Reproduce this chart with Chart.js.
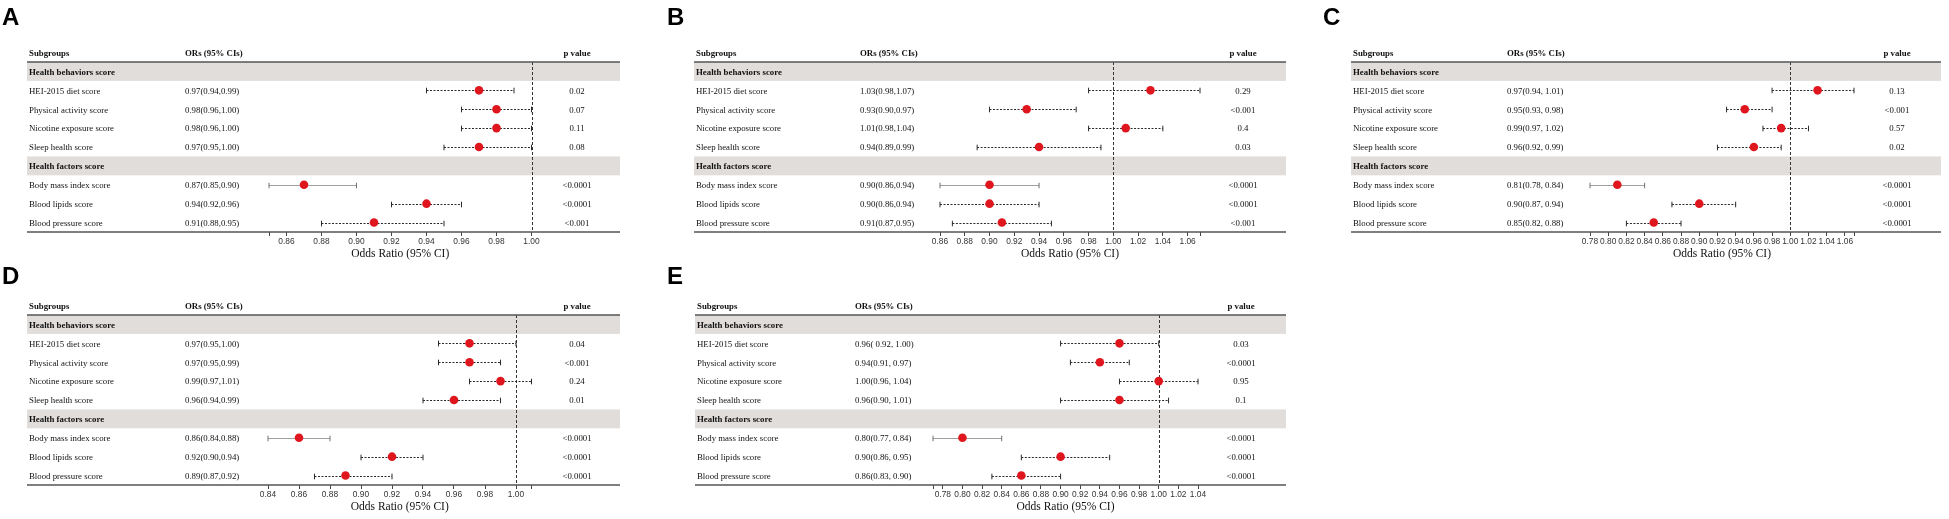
<!DOCTYPE html>
<html>
<head>
<meta charset="utf-8">
<script src="https://cdn.jsdelivr.net/npm/chart.js@4.4.1/dist/chart.umd.min.js"></script>
<style>
  body { margin: 0; background: #fff; width: 1949px; height: 519px; overflow: hidden; position: relative; }
  canvas { position: absolute; }
</style>
</head>
<body>
<canvas id="cA" width="650" height="262" style="left:0px;top:0px"></canvas>
<canvas id="cB" width="650" height="262" style="left:650px;top:0px"></canvas>
<canvas id="cC" width="649" height="262" style="left:1300px;top:0px"></canvas>
<canvas id="cD" width="650" height="266" style="left:0px;top:253px"></canvas>
<canvas id="cE" width="650" height="266" style="left:650px;top:253px"></canvas>
<script>
// rows of the table (same in every panel)
const subgroups = ['HEI-2015 diet score', 'Physical activity score', 'Nicotine exposure score', 'Sleep health score',
                   'Body mass index score', 'Blood lipids score', 'Blood pressure score'];
const groupNames = ['Health behaviors score', 'Health factors score'];
const rowIdx = [2, 3, 4, 5, 7, 8, 9];   // table row of each subgroup
const groupIdx = [1, 6];

// A
const orA = [0.97, 0.98, 0.98, 0.97, 0.87, 0.94, 0.91];
const loA = [0.94, 0.96, 0.96, 0.95, 0.85, 0.92, 0.88];
const hiA = [0.99, 1.00, 1.00, 1.00, 0.90, 0.96, 0.95];
const txtA = ['0.97(0.94,0.99)', '0.98(0.96,1.00)', '0.98(0.96,1.00)', '0.97(0.95,1.00)', '0.87(0.85,0.90)', '0.94(0.92,0.96)', '0.91(0.88,0.95)'];
const pA = ['0.02', '0.07', '0.11', '0.08', '<0.0001', '<0.0001', '<0.001'];
const ticksA = [0.86, 0.88, 0.90, 0.92, 0.94, 0.96, 0.98, 1.00];
const limA = [0.85, 1.00];

// B
const orB = [1.03, 0.93, 1.01, 0.94, 0.90, 0.90, 0.91];
const loB = [0.98, 0.90, 0.98, 0.89, 0.86, 0.86, 0.87];
const hiB = [1.07, 0.97, 1.04, 0.99, 0.94, 0.94, 0.95];
const txtB = ['1.03(0.98,1.07)', '0.93(0.90,0.97)', '1.01(0.98,1.04)', '0.94(0.89,0.99)', '0.90(0.86,0.94)', '0.90(0.86,0.94)', '0.91(0.87,0.95)'];
const pB = ['0.29', '<0.001', '0.4', '0.03', '<0.0001', '<0.0001', '<0.001'];
const ticksB = [0.86, 0.88, 0.90, 0.92, 0.94, 0.96, 0.98, 1.00, 1.02, 1.04, 1.06];
const limB = [0.86, 1.07];

// C
const orC = [1.03, 0.95, 0.99, 0.96, 0.81, 0.90, 0.85];
const loC = [0.98, 0.93, 0.97, 0.92, 0.78, 0.87, 0.82];
const hiC = [1.07, 0.98, 1.02, 0.99, 0.84, 0.94, 0.88];
const txtC = ['0.97(0.94, 1.01)', '0.95(0.93, 0.98)', '0.99(0.97, 1.02)', '0.96(0.92, 0.99)', '0.81(0.78, 0.84)', '0.90(0.87, 0.94)', '0.85(0.82, 0.88)'];
const pC = ['0.13', '<0.001', '0.57', '0.02', '<0.0001', '<0.0001', '<0.0001'];
const ticksC = [0.78, 0.80, 0.82, 0.84, 0.86, 0.88, 0.90, 0.92, 0.94, 0.96, 0.98, 1.00, 1.02, 1.04, 1.06];
const limC = [0.78, 1.07];

// D
const orD = [0.97, 0.97, 0.99, 0.96, 0.86, 0.92, 0.89];
const loD = [0.95, 0.95, 0.97, 0.94, 0.84, 0.90, 0.87];
const hiD = [1.00, 0.99, 1.01, 0.99, 0.88, 0.94, 0.92];
const txtD = ['0.97(0.95,1.00)', '0.97(0.95,0.99)', '0.99(0.97,1.01)', '0.96(0.94,0.99)', '0.86(0.84,0.88)', '0.92(0.90,0.94)', '0.89(0.87,0.92)'];
const pD = ['0.04', '<0.001', '0.24', '0.01', '<0.0001', '<0.0001', '<0.0001'];
const ticksD = [0.84, 0.86, 0.88, 0.90, 0.92, 0.94, 0.96, 0.98, 1.00];
const limD = [0.84, 1.01];

// E
const orE = [0.96, 0.94, 1.00, 0.96, 0.80, 0.90, 0.86];
const loE = [0.90, 0.91, 0.96, 0.90, 0.77, 0.86, 0.83];
const hiE = [1.00, 0.97, 1.04, 1.01, 0.84, 0.95, 0.90];
const txtE = ['0.96( 0.92, 1.00)', '0.94(0.91, 0.97)', '1.00(0.96, 1.04)', '0.96(0.90, 1.01)', '0.80(0.77, 0.84)', '0.90(0.86, 0.95)', '0.86(0.83, 0.90)'];
const pE = ['0.03', '<0.0001', '0.95', '0.1', '<0.0001', '<0.0001', '<0.0001'];
const ticksE = [0.78, 0.80, 0.82, 0.84, 0.86, 0.88, 0.90, 0.92, 0.94, 0.96, 0.98, 1.00, 1.02, 1.04];
const limE = [0.77, 1.04];

const SERIF = '"Liberation Serif", "Times New Roman", serif';
const SANS = '"Liberation Sans", Arial, sans-serif';

// pixel layout of each panel inside its canvas
const panels = [
  { id: 'cA', letter: 'A', or: orA, lo: loA, hi: hiA, txt: txtA, p: pA, ticks: ticksA, lim: limA,
    tableL: 27, tableR: 620, colOR: 185, colP: 577, axisL: 269, axisR: 531.5, letterX: 2, letterY: 25 },
  { id: 'cB', letter: 'B', or: orB, lo: loB, hi: hiB, txt: txtB, p: pB, ticks: ticksB, lim: limB,
    tableL: 44, tableR: 636, colOR: 210, colP: 593, axisL: 290, axisR: 550, letterX: 17, letterY: 25 },
  { id: 'cC', letter: 'C', or: orC, lo: loC, hi: hiC, txt: txtC, p: pC, ticks: ticksC, lim: limC,
    tableL: 51, tableR: 641, colOR: 207, colP: 597, axisL: 290, axisR: 554, letterX: 23, letterY: 25 },
  { id: 'cD', letter: 'D', or: orD, lo: loD, hi: hiD, txt: txtD, p: pD, ticks: ticksD, lim: limD,
    tableL: 27, tableR: 620, colOR: 185, colP: 577, axisL: 268, axisR: 531.5, letterX: 2, letterY: 31 },
  { id: 'cE', letter: 'E', or: orE, lo: loE, hi: hiE, txt: txtE, p: pE, ticks: ticksE, lim: limE,
    tableL: 45, tableR: 636, colOR: 205, colP: 591, axisL: 283, axisR: 548, letterX: 17, letterY: 31 }
];

let makePanel = function(pn) {
  const canvas = document.getElementById(pn.id);
  const W = canvas.width, H = canvas.height;
  const TOP = 62, BOTTOM = 232;

  const forest = {
    id: 'forest',
    beforeDraw(chart) {
      const ctx = chart.ctx, y = chart.scales.y;
      ctx.save();
      ctx.fillStyle = '#e0dddb';
      groupIdx.forEach(r => {
        const y1 = y.getPixelForValue(r - 0.5), y2 = y.getPixelForValue(r + 0.5);
        ctx.fillRect(pn.tableL, y1, pn.tableR - pn.tableL, y2 - y1);
      });
      ctx.restore();
    },
    beforeDatasetsDraw(chart) {
      const ctx = chart.ctx, x = chart.scales.x, y = chart.scales.y, ca = chart.chartArea;
      ctx.save();
      // reference line at 1
      const x1 = Math.round(x.getPixelForValue(1)) + 0.5;
      ctx.strokeStyle = '#333';
      ctx.lineWidth = 1;
      ctx.setLineDash([3, 2]);
      ctx.beginPath(); ctx.moveTo(x1, ca.top); ctx.lineTo(x1, ca.bottom); ctx.stroke();
      // confidence intervals
      pn.lo.forEach((lo, i) => {
        const yy = Math.round(y.getPixelForValue(rowIdx[i])) + 0.5;
        const a = x.getPixelForValue(lo), b = x.getPixelForValue(pn.hi[i]);
        const light = i === 4;
        ctx.strokeStyle = light ? '#a0a0a0' : '#2a2a2a';
        ctx.setLineDash(light ? [] : [2, 1.5]);
        ctx.beginPath(); ctx.moveTo(a, yy); ctx.lineTo(b, yy); ctx.stroke();
        ctx.setLineDash([]);
        ctx.strokeStyle = light ? '#707070' : '#2a2a2a';
        ctx.beginPath();
        ctx.moveTo(a, yy - 2.8); ctx.lineTo(a, yy + 2.8);
        ctx.moveTo(b, yy - 2.8); ctx.lineTo(b, yy + 2.8);
        ctx.stroke();
      });
      // table rules
      ctx.strokeStyle = '#555';
      ctx.lineWidth = 1.6;
      ctx.beginPath();
      ctx.moveTo(pn.tableL, ca.top); ctx.lineTo(pn.tableR, ca.top);
      ctx.moveTo(pn.tableL, ca.bottom); ctx.lineTo(pn.tableR, ca.bottom);
      ctx.stroke();
      ctx.restore();
    },
    afterDraw(chart) {
      const ctx = chart.ctx, x = chart.scales.x, y = chart.scales.y;
      ctx.save();
      ctx.fillStyle = '#111';
      ctx.textBaseline = 'middle';
      const tx = pn.tableL + 2;
      // header
      const yh = y.getPixelForValue(0) + 1;
      ctx.font = 'bold 8.8px ' + SERIF;
      ctx.textAlign = 'left';
      ctx.fillText('Subgroups', tx, yh);
      ctx.fillText('ORs (95% CIs)', pn.colOR, yh);
      ctx.textAlign = 'center';
      ctx.fillText('p value', pn.colP, yh);
      // group rows
      ctx.textAlign = 'left';
      groupNames.forEach((g, k) => ctx.fillText(g, tx, y.getPixelForValue(groupIdx[k]) + 1));
      // subgroup rows
      ctx.font = '8.8px ' + SERIF;
      subgroups.forEach((s, i) => {
        const yy = y.getPixelForValue(rowIdx[i]) + 1;
        ctx.textAlign = 'left';
        ctx.fillText(s, tx, yy);
        ctx.fillText(pn.txt[i], pn.colOR, yy);
        ctx.textAlign = 'center';
        ctx.fillText(pn.p[i], pn.colP, yy);
      });
      // axis title
      ctx.font = '11.5px ' + SERIF;
      ctx.textAlign = 'center';
      ctx.fillText('Odds Ratio (95% CI)', (x.left + x.right) / 2, 254);
      // panel letter
      ctx.font = 'bold 24px ' + SANS;
      ctx.textAlign = 'left';
      ctx.textBaseline = 'alphabetic';
      ctx.fillStyle = '#000';
      ctx.fillText(pn.letter, pn.letterX, pn.letterY);
      ctx.restore();
    }
  };

  new Chart(canvas, {
    type: 'scatter',
    data: {
      datasets: [{
        data: pn.or.map((v, i) => ({ x: v, y: rowIdx[i] })),
        backgroundColor: '#e0161e',
        borderWidth: 0,
        pointRadius: 4.3,
        pointHoverRadius: 4.3
      }]
    },
    options: {
      responsive: false,
      animation: false,
      events: [],
      layout: { padding: { top: TOP, left: pn.axisL, right: W - pn.axisR, bottom: 0 } },
      plugins: { legend: { display: false }, tooltip: { enabled: false } },
      scales: {
        x: {
          type: 'linear',
          min: pn.lim[0],
          max: pn.lim[1],
          afterBuildTicks: s => {
            const vals = pn.ticks.slice();
            if (Math.abs(vals[0] - pn.lim[0]) > 1e-9) vals.unshift(pn.lim[0]);
            if (Math.abs(vals[vals.length - 1] - pn.lim[1]) > 1e-9) vals.push(pn.lim[1]);
            s.ticks = vals.map(v => ({ value: v }));
          },
          afterFit: s => { s.height = H - BOTTOM; },
          border: { display: false },
          grid: { drawOnChartArea: false, drawTicks: true, tickLength: 4, color: '#444', lineWidth: 1 },
          ticks: {
            autoSkip: false,
            maxRotation: 0,
            padding: 1,
            color: '#333',
            font: { family: SANS, size: 8.4 },
            callback: v => pn.ticks.some(t => Math.abs(t - v) < 1e-9) ? v.toFixed(2) : ''
          }
        },
        y: { type: 'linear', display: false, reverse: true, min: 0.5, max: 9.5 }
      }
    },
    plugins: [forest]
  });
};

panels.forEach(makePanel);
</script>
</body>
</html>
